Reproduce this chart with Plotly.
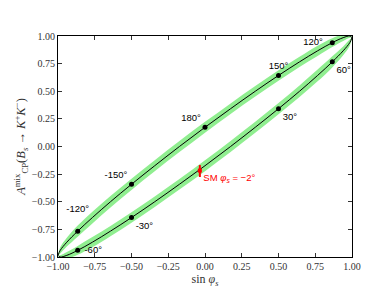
import plotly.graph_objects as go

# ---- data ----
# lower branch (phi from -90 to 90 deg), x = sin(phi_s)
low_x = [-1.0, -0.985, -0.940, -0.866, -0.766, -0.643, -0.5, -0.342, -0.174, 0.0,
         0.174, 0.342, 0.5, 0.643, 0.766, 0.866, 0.940, 0.985, 1.0]
low_y = [-0.985, -1.0, -0.985, -0.940, -0.866, -0.766, -0.643, -0.5, -0.342, -0.174,
         0.0, 0.174, 0.342, 0.5, 0.643, 0.766, 0.866, 0.940, 0.985]
low_err = [0.0, 0.015, 0.030, 0.040, 0.046, 0.046, 0.047, 0.048, 0.048, 0.049,
           0.050, 0.050, 0.051, 0.052, 0.053, 0.050, 0.040, 0.028, 0.0]

# upper branch (phi from -90 down through 180 to 90 deg)
up_x = [-1.0, -0.985, -0.940, -0.866, -0.766, -0.643, -0.5, -0.342, -0.174, 0.0,
        0.174, 0.342, 0.5, 0.643, 0.766, 0.866, 0.940, 0.985, 1.0]
up_y = [-0.985, -0.940, -0.866, -0.766, -0.643, -0.5, -0.342, -0.174, 0.0, 0.174,
        0.342, 0.5, 0.643, 0.766, 0.866, 0.940, 0.985, 1.0, 0.985]
up_err = [0.0, 0.028, 0.040, 0.050, 0.053, 0.052, 0.051, 0.050, 0.050, 0.049,
          0.048, 0.048, 0.047, 0.046, 0.046, 0.040, 0.030, 0.015, 0.0]

# labelled phase points
pt_labels = ["120°\u00a0\u00a0", "150°", "180°", "-150°", "-120°<br>\u00a0",
             "\u00a0-60°", "-30°", "30°", "60°"]
pt_x = [0.866, 0.5, 0.0, -0.5, -0.866, -0.866, -0.5, 0.5, 0.866]
pt_y = [0.940, 0.643, 0.174, -0.342, -0.766, -0.940, -0.643, 0.342, 0.766]
pt_pos = ["middle left", "top center", "top left", "top left", "top center",
          "middle right", "bottom right", "bottom right", "bottom right"]

# Standard Model point
sm_x = [-0.035]
sm_y = [-0.218]
sm_err_plus = [0.050]
sm_err_minus = [0.058]
sm_label = "SM <i>φ<sub>s</sub></i> = −2°"

tick_vals = [-1.0, -0.75, -0.5, -0.25, 0.0, 0.25, 0.5, 0.75, 1.0]
tick_text = ["−1.00", "−0.75", "−0.50", "−0.25", "0.00", "0.25", "0.50", "0.75", "1.00"]

band_color = "#90EE90"

fig = go.Figure()

for bx, by, be in [(low_x, low_y, low_err), (up_x, up_y, up_err)]:
    lo = [a - b for a, b in zip(by, be)]
    hi = [a + b for a, b in zip(by, be)]
    fig.add_trace(go.Scatter(x=bx, y=lo, mode="lines", line=dict(width=0, color=band_color, shape="spline"),
                             hoverinfo="skip", showlegend=False))
    fig.add_trace(go.Scatter(x=bx, y=hi, mode="lines", line=dict(width=0, color=band_color, shape="spline"),
                             fill="tonexty", fillcolor=band_color, hoverinfo="skip", showlegend=False))

for bx, by in [(low_x, low_y), (up_x, up_y)]:
    fig.add_trace(go.Scatter(x=bx, y=by, mode="lines", line=dict(width=1, color="black", shape="spline"),
                             showlegend=False))

fig.add_trace(go.Scatter(x=pt_x, y=pt_y, mode="markers+text", text=pt_labels, textposition=pt_pos,
                         marker=dict(size=5, color="black"),
                         textfont=dict(family="Liberation Sans, Arial, sans-serif", size=9.5, color="black"),
                         showlegend=False))

fig.add_trace(go.Scatter(x=sm_x, y=sm_y, mode="markers+text", text=[sm_label], textposition="bottom right",
                         marker=dict(size=4, color="red", symbol="square"),
                         error_y=dict(type="data", symmetric=False, array=sm_err_plus, arrayminus=sm_err_minus,
                                      color="red", thickness=2, width=0),
                         textfont=dict(family="Liberation Sans, Arial, sans-serif", size=9.5, color="red"),
                         showlegend=False))

axis_common = dict(
    range=[-1, 1], tickvals=tick_vals, ticktext=tick_text, ticks="inside", ticklen=4,
    tickcolor="#333", showline=True, linecolor="black", linewidth=1, mirror="ticks",
    showgrid=False, zeroline=False,
    tickfont=dict(family="Liberation Serif, Times New Roman, serif", size=10, color="#333"),
)

fig.update_xaxes(**axis_common,
                 title=dict(text="sin <i>φ</i><sub><i>s</i></sub>", standoff=2,
                            font=dict(family="Liberation Serif, serif", size=12, color="#333")))
fig.update_yaxes(**axis_common,
                 title=dict(text="<i>A</i><sup>mix</sup><sub>CP</sub>(<i>B<sub>s</sub></i> → <i>K</i><sup>+</sup><i>K</i><sup>−</sup>)",
                            standoff=3,
                            font=dict(family="Liberation Serif, serif", size=12.5, color="#333")))

fig.update_layout(
    width=382, height=286,
    margin=dict(l=48, r=38, t=28, b=29),
    plot_bgcolor="white", paper_bgcolor="white",
    showlegend=False,
)

fig.write_html("out.html")
